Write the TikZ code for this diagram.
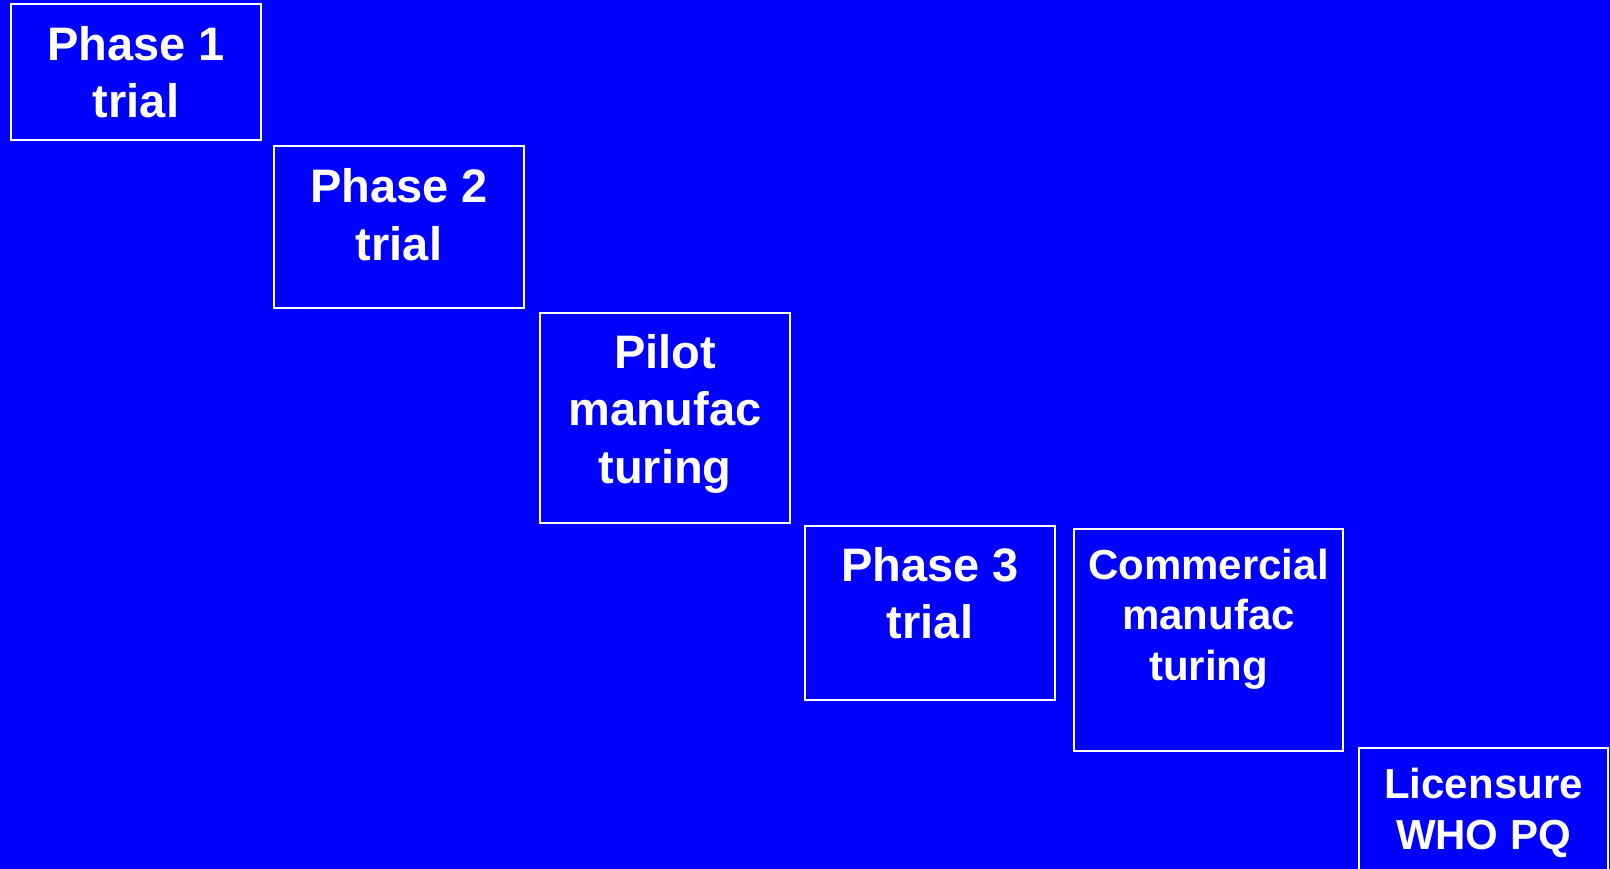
\documentclass[tikz,border=0pt]{standalone}
\usepackage{fontspec}
\setmainfont{Liberation Sans}
\definecolor{bgblue}{RGB}{0,0,255}
\begin{document}
\begin{tikzpicture}[x=1pt,y=-1pt,
  stagebox/.style={draw=white,line width=1.6pt,rectangle,inner sep=0pt},
  bigtxt/.style={text=white,anchor=north,inner sep=0pt,align=center,font=\fontsize{47}{57.5}\selectfont\bfseries},
  smalltxt/.style={text=white,anchor=north,inner sep=0pt,align=center,font=\fontsize{42}{50.5}\selectfont\bfseries}]
\fill[bgblue] (0,0) rectangle (1610,869);
\useasboundingbox (0,0) rectangle (1610,869);
\node[stagebox,minimum width=250,minimum height=136] (b1) at (136,72) {};
\node[stagebox,minimum width=250,minimum height=162] (b2) at (399,227) {};
\node[stagebox,minimum width=250,minimum height=210] (b3) at (665,418) {};
\node[stagebox,minimum width=250,minimum height=174] (b4) at (930,613) {};
\node[stagebox,minimum width=269,minimum height=222] (b5) at (1208.5,640) {};
\node[stagebox,minimum width=249,minimum height=152] (b6) at (1483.5,824) {};
\node[bigtxt] (t1) at ([yshift=-23pt]b1.north) {Phase 1\\trial};
\node[bigtxt] (t2) at ([yshift=-23.5pt]b2.north) {Phase 2\\trial};
\node[bigtxt] (t3) at ([yshift=-22pt]b3.north) {Pilot\\manufac\\turing};
\node[bigtxt] (t4) at ([yshift=-22pt]b4.north) {Phase 3\\trial};
\node[smalltxt] (t5) at ([yshift=-20.5pt]b5.north) {Commercial\\manufac\\turing};
\node[smalltxt] (t6) at ([yshift=-21pt]b6.north) {Licensure\\WHO PQ};
\end{tikzpicture}
\end{document}
